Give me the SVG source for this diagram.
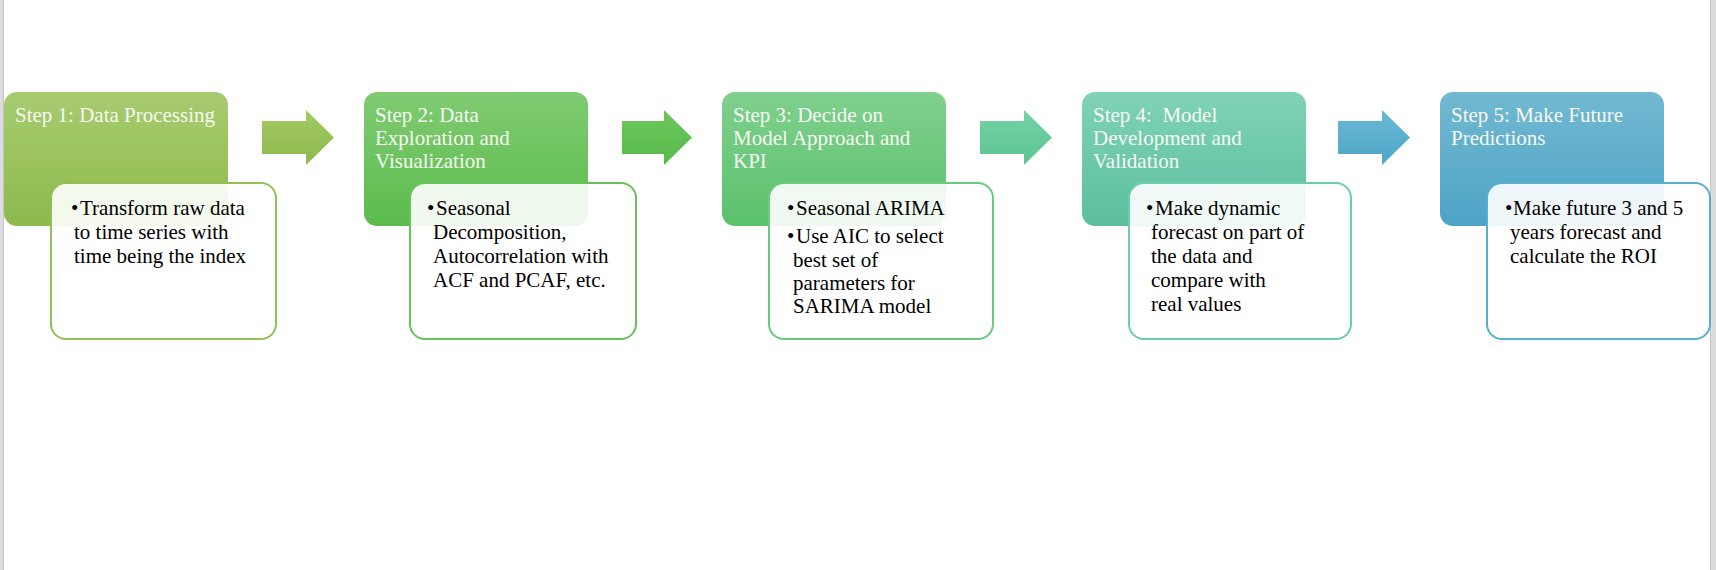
<svg xmlns="http://www.w3.org/2000/svg" width="1716" height="570" viewBox="0 0 1716 570">
<defs>
<linearGradient id="g1" x1="0" y1="0" x2="0" y2="1"><stop offset="0" stop-color="#a8cb70"/><stop offset="1" stop-color="#8cba4c"/></linearGradient>
<linearGradient id="g2" x1="0" y1="0" x2="0" y2="1"><stop offset="0" stop-color="#80cb72"/><stop offset="1" stop-color="#5bbc4c"/></linearGradient>
<linearGradient id="g3" x1="0" y1="0" x2="0" y2="1"><stop offset="0" stop-color="#80d08e"/><stop offset="1" stop-color="#5bc16c"/></linearGradient>
<linearGradient id="g4" x1="0" y1="0" x2="0" y2="1"><stop offset="0" stop-color="#80d2b6"/><stop offset="1" stop-color="#5cbf9f"/></linearGradient>
<linearGradient id="g5" x1="0" y1="0" x2="0" y2="1"><stop offset="0" stop-color="#72b9d2"/><stop offset="1" stop-color="#4ea3c6"/></linearGradient>
<linearGradient id="a1" x1="0" y1="0" x2="0" y2="1"><stop offset="0" stop-color="#a4c964"/><stop offset="1" stop-color="#8cba4d"/></linearGradient>
<linearGradient id="a2" x1="0" y1="0" x2="0" y2="1"><stop offset="0" stop-color="#6dc85e"/><stop offset="1" stop-color="#55ba48"/></linearGradient>
<linearGradient id="a3" x1="0" y1="0" x2="0" y2="1"><stop offset="0" stop-color="#76d2a4"/><stop offset="1" stop-color="#5bc491"/></linearGradient>
<linearGradient id="a4" x1="0" y1="0" x2="0" y2="1"><stop offset="0" stop-color="#6ab9d5"/><stop offset="1" stop-color="#4ea5c7"/></linearGradient>
</defs>
<style>
.hdr{font-family:"Liberation Serif","Times New Roman",serif;font-size:21px;fill:#f7faf2;white-space:pre}
.det{font-family:"Liberation Serif","Times New Roman",serif;font-size:21px;fill:#000}
.box{fill:#ffffff;fill-opacity:0.9;stroke-width:2}
</style>
<rect x="0" y="0" width="1716" height="570" fill="#ffffff"/>
<rect x="0" y="0" width="3" height="570" fill="#dcdcdc"/>
<rect x="3" y="0" width="1" height="570" fill="#c4c4c4"/>
<rect x="1710" y="0" width="6" height="570" fill="#dcdcdc"/>
<rect x="1710" y="0" width="1" height="570" fill="#c4c4c4"/>

<g id="connectors">
<path d="M262 121 H306 V110 L334 137.5 L306 165 V154 H262 Z" fill="url(#a1)"/>
<path d="M622 121 H664 V110 L692 137.5 L664 165 V154 H622 Z" fill="url(#a2)"/>
<path d="M980 121 H1024 V110 L1052 137.5 L1024 165 V154 H980 Z" fill="url(#a3)"/>
<path d="M1338 121 H1382 V110 L1410 137.5 L1382 165 V154 H1338 Z" fill="url(#a4)"/>
</g>

<g id="step1">
<rect x="4" y="92" width="224" height="134" rx="13" fill="url(#g1)"/>
<text class="hdr" x="15" y="122">Step 1: Data Processing</text>
<rect class="box" x="51" y="183" width="225" height="156" rx="15" stroke="#93bf55"/>
<text class="det"><tspan x="71" y="215">•</tspan><tspan x="80" y="215">Transform raw data</tspan><tspan x="74" y="239">to time series with</tspan><tspan x="74" y="263">time being the index</tspan></text>
</g>

<g id="step2">
<rect x="364" y="92" width="224" height="134" rx="13" fill="url(#g2)"/>
<text class="hdr"><tspan x="375" y="122">Step 2: Data</tspan><tspan x="375" y="145">Exploration and</tspan><tspan x="375" y="168">Visualization</tspan></text>
<rect class="box" x="410" y="183" width="226" height="156" rx="15" stroke="#68c25a"/>
<text class="det"><tspan x="427" y="215">•</tspan><tspan x="436" y="215">Seasonal</tspan><tspan x="433" y="239">Decomposition,</tspan><tspan x="433" y="263">Autocorrelation with</tspan><tspan x="433" y="287">ACF and PCAF, etc.</tspan></text>
</g>

<g id="step3">
<rect x="722" y="92" width="224" height="134" rx="13" fill="url(#g3)"/>
<text class="hdr"><tspan x="733" y="122">Step 3: Decide on</tspan><tspan x="733" y="145">Model Approach and</tspan><tspan x="733" y="168">KPI</tspan></text>
<rect class="box" x="769" y="183" width="224" height="156" rx="15" stroke="#6acb7c"/>
<text class="det"><tspan x="787" y="215">•</tspan><tspan x="796" y="215">Seasonal ARIMA</tspan><tspan x="787" y="243">•</tspan><tspan x="796" y="243">Use AIC to select</tspan><tspan x="793" y="267">best set of</tspan><tspan x="793" y="290">parameters for</tspan><tspan x="793" y="313">SARIMA model</tspan></text>
</g>

<g id="step4">
<rect x="1082" y="92" width="224" height="134" rx="13" fill="url(#g4)"/>
<text class="hdr"><tspan x="1093" y="122">Step 4:  Model</tspan><tspan x="1093" y="145">Development and</tspan><tspan x="1093" y="168">Validation</tspan></text>
<rect class="box" x="1129" y="183" width="222" height="156" rx="15" stroke="#6ccdae"/>
<text class="det"><tspan x="1146" y="215">•</tspan><tspan x="1155" y="215">Make dynamic</tspan><tspan x="1151" y="239">forecast on part of</tspan><tspan x="1151" y="263">the data and</tspan><tspan x="1151" y="287">compare with</tspan><tspan x="1151" y="311">real values</tspan></text>
</g>

<g id="step5">
<rect x="1440" y="92" width="224" height="134" rx="13" fill="url(#g5)"/>
<text class="hdr"><tspan x="1451" y="122">Step 5: Make Future</tspan><tspan x="1451" y="145">Predictions</tspan></text>
<rect class="box" x="1487" y="183" width="223" height="156" rx="15" stroke="#5aaecf"/>
<text class="det"><tspan x="1505" y="215">•</tspan><tspan x="1513" y="215">Make future 3 and 5</tspan><tspan x="1510" y="239">years forecast and</tspan><tspan x="1510" y="263">calculate the ROI</tspan></text>
</g>
</svg>
